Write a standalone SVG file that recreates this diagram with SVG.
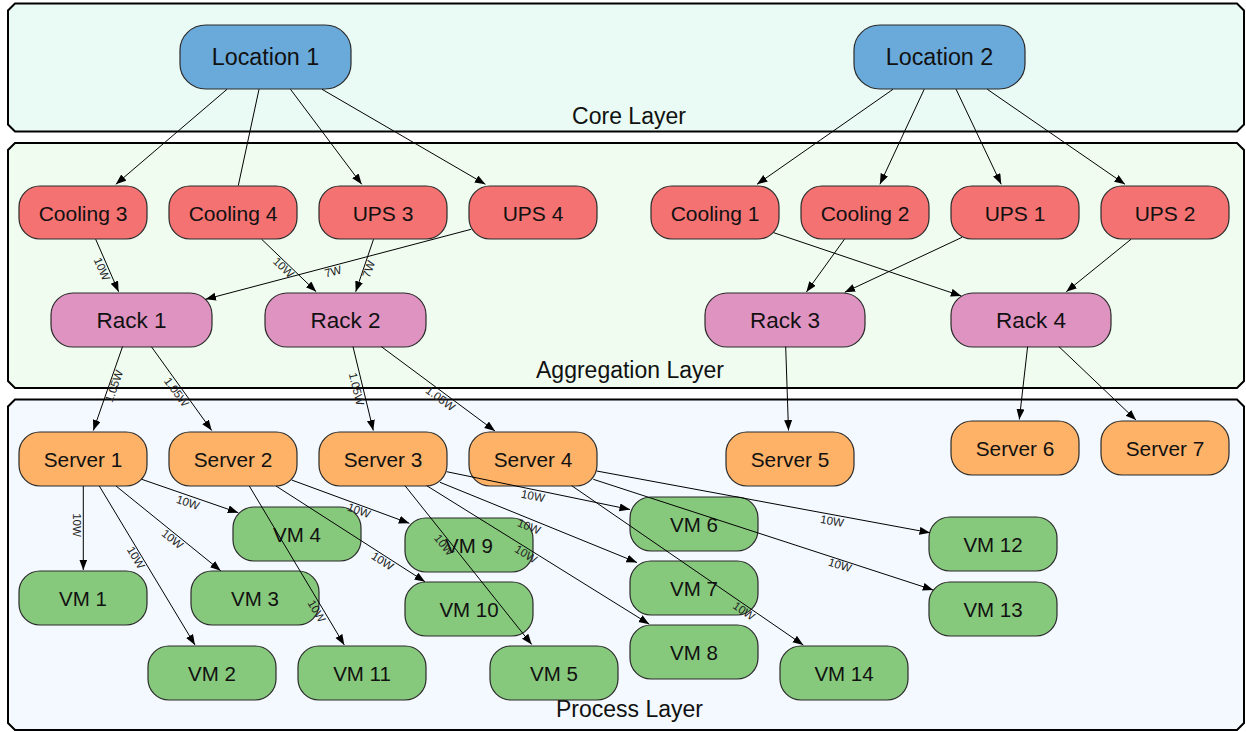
<svg xmlns="http://www.w3.org/2000/svg" width="1246" height="732" viewBox="0 0 1246 732">
<defs>
<marker id="arr" markerUnits="userSpaceOnUse" markerWidth="12" markerHeight="10" refX="10.5" refY="4" orient="auto">
<path d="M0,0 L10.5,4 L0,8 z" fill="#000"/>
</marker>
<style>
.layer{stroke:#000;stroke-width:2}
.ltxt{font-family:"Liberation Sans",Arial,sans-serif;font-size:23px;fill:#111;text-anchor:middle}
.n{stroke:#2a2a2a;stroke-width:1.2}
.t{font-family:"Liberation Sans",Arial,sans-serif;fill:#111;text-anchor:middle}
.loc{fill:#6aaadb}
.red{fill:#f47372}
.pink{fill:#df93c1}
.org{fill:#fdb267}
.grn{fill:#87c97c}
.e{stroke:#000;stroke-width:1;fill:none}
.ea{stroke:#000;stroke-width:1;fill:none;marker-end:url(#arr)}
.el{font-family:"Liberation Sans",Arial,sans-serif;font-size:11.5px;fill:#222;text-anchor:middle}
</style>
</defs>

<g id="layers">
<polygon class="layer" fill="#e9fbf4" points="15,3.5 1237,3.5 1244,10.5 1244,124.5 1237,131.5 15,131.5 8,124.5 8,10.5"/>
<text class="ltxt" x="629" y="124">Core Layer</text>
<polygon class="layer" fill="#f0fcf0" points="15,143 1237,143 1244,150 1244,381 1237,388 15,388 8,381 8,150"/>
<text class="ltxt" x="630" y="378">Aggregation Layer</text>
<polygon class="layer" fill="#f3f9fe" points="15,399.5 1237,399.5 1244,406.5 1244,723 1237,730 15,730 8,723 8,406.5"/>
<text class="ltxt" x="629.5" y="717">Process Layer</text>
</g>

<g id="node-location1"><rect class="n loc" x="180" y="25" width="171" height="64" rx="26" ry="25"/><text class="t" x="265.5" y="65.4" font-size="23.3">Location 1</text></g>
<g id="node-location2"><rect class="n loc" x="854" y="25" width="171" height="64" rx="26" ry="25"/><text class="t" x="939.5" y="65.4" font-size="23.3">Location 2</text></g>

<g id="node-cooling3"><rect class="n red" x="19" y="186" width="128" height="53" rx="21"/><text class="t" x="83" y="220.5" font-size="21">Cooling 3</text></g>
<g id="node-cooling4"><rect class="n red" x="169" y="186" width="128" height="53" rx="21"/><text class="t" x="233" y="220.5" font-size="21">Cooling 4</text></g>
<g id="node-ups3"><rect class="n red" x="319" y="186" width="128" height="53" rx="21"/><text class="t" x="383" y="220.5" font-size="21">UPS 3</text></g>
<g id="node-ups4"><rect class="n red" x="469" y="186" width="128" height="53" rx="21"/><text class="t" x="533" y="220.5" font-size="21">UPS 4</text></g>
<g id="node-cooling1"><rect class="n red" x="651" y="186" width="128" height="53" rx="21"/><text class="t" x="715" y="220.5" font-size="21">Cooling 1</text></g>
<g id="node-cooling2"><rect class="n red" x="801" y="186" width="128" height="53" rx="21"/><text class="t" x="865" y="220.5" font-size="21">Cooling 2</text></g>
<g id="node-ups1"><rect class="n red" x="951" y="186" width="128" height="53" rx="21"/><text class="t" x="1015" y="220.5" font-size="21">UPS 1</text></g>
<g id="node-ups2"><rect class="n red" x="1101" y="186" width="128" height="53" rx="21"/><text class="t" x="1165" y="220.5" font-size="21">UPS 2</text></g>

<g id="node-rack1"><rect class="n pink" x="51" y="293" width="161" height="54" rx="22"/><text class="t" x="131.5" y="328.2" font-size="22.5">Rack 1</text></g>
<g id="node-rack2"><rect class="n pink" x="265" y="293" width="161" height="54" rx="22"/><text class="t" x="345.5" y="328.2" font-size="22.5">Rack 2</text></g>
<g id="node-rack3"><rect class="n pink" x="705" y="293" width="160" height="54" rx="22"/><text class="t" x="785" y="328.2" font-size="22.5">Rack 3</text></g>
<g id="node-rack4"><rect class="n pink" x="951" y="293" width="160" height="54" rx="22"/><text class="t" x="1031" y="328.2" font-size="22.5">Rack 4</text></g>

<g id="node-server1"><rect class="n org" x="19" y="432" width="128" height="54" rx="21"/><text class="t" x="83" y="466.5" font-size="20.8">Server 1</text></g>
<g id="node-server2"><rect class="n org" x="169" y="432" width="128" height="54" rx="21"/><text class="t" x="233" y="466.5" font-size="20.8">Server 2</text></g>
<g id="node-server3"><rect class="n org" x="319" y="432" width="128" height="54" rx="21"/><text class="t" x="383" y="466.5" font-size="20.8">Server 3</text></g>
<g id="node-server4"><rect class="n org" x="469" y="432" width="128" height="54" rx="21"/><text class="t" x="533" y="466.5" font-size="20.8">Server 4</text></g>
<g id="node-server5"><rect class="n org" x="726" y="432" width="128" height="54" rx="21"/><text class="t" x="790" y="466.5" font-size="20.8">Server 5</text></g>
<g id="node-server6"><rect class="n org" x="951" y="421" width="128" height="54" rx="21"/><text class="t" x="1015" y="455.5" font-size="20.8">Server 6</text></g>
<g id="node-server7"><rect class="n org" x="1101" y="421" width="128" height="54" rx="21"/><text class="t" x="1165" y="455.5" font-size="20.8">Server 7</text></g>

<g id="node-vm1"><rect class="n grn" x="19" y="571" width="128" height="54" rx="21"/><text class="t" x="83" y="605.5" font-size="20.5">VM 1</text></g>
<g id="node-vm2"><rect class="n grn" x="148" y="646" width="128" height="54" rx="21"/><text class="t" x="212" y="680.5" font-size="20.5">VM 2</text></g>
<g id="node-vm3"><rect class="n grn" x="191" y="571" width="128" height="54" rx="21"/><text class="t" x="255" y="605.5" font-size="20.5">VM 3</text></g>
<g id="node-vm4"><rect class="n grn" x="233" y="507" width="128" height="54" rx="21"/><text class="t" x="297" y="541.5" font-size="20.5">VM 4</text></g>
<g id="node-vm11"><rect class="n grn" x="298" y="646" width="128" height="54" rx="21"/><text class="t" x="362" y="680.5" font-size="20.5">VM 11</text></g>
<g id="node-vm9"><rect class="n grn" x="405" y="518" width="128" height="54" rx="21"/><text class="t" x="469" y="552.5" font-size="20.5">VM 9</text></g>
<g id="node-vm10"><rect class="n grn" x="405" y="582" width="128" height="54" rx="21"/><text class="t" x="469" y="616.5" font-size="20.5">VM 10</text></g>
<g id="node-vm5"><rect class="n grn" x="490" y="646" width="128" height="54" rx="21"/><text class="t" x="554" y="680.5" font-size="20.5">VM 5</text></g>
<g id="node-vm6"><rect class="n grn" x="630" y="497" width="128" height="54" rx="21"/><text class="t" x="694" y="531.5" font-size="20.5">VM 6</text></g>
<g id="node-vm7"><rect class="n grn" x="630" y="561" width="128" height="54" rx="21"/><text class="t" x="694" y="595.5" font-size="20.5">VM 7</text></g>
<g id="node-vm8"><rect class="n grn" x="630" y="625" width="128" height="54" rx="21"/><text class="t" x="694" y="659.5" font-size="20.5">VM 8</text></g>
<g id="node-vm14"><rect class="n grn" x="780" y="646" width="128" height="54" rx="21"/><text class="t" x="844" y="680.5" font-size="20.5">VM 14</text></g>
<g id="node-vm12"><rect class="n grn" x="929" y="517" width="128" height="54" rx="21"/><text class="t" x="993" y="551.5" font-size="20.5">VM 12</text></g>
<g id="node-vm13"><rect class="n grn" x="929" y="582" width="128" height="54" rx="21"/><text class="t" x="993" y="616.5" font-size="20.5">VM 13</text></g>

<g id="connectors">
<line class="ea" x1="227" y1="89.3" x2="115.8" y2="184.3"/>
<line class="e" x1="259" y1="89.3" x2="238.3" y2="185.5"/>
<line class="ea" x1="290.5" y1="89.3" x2="361.7" y2="184.3"/>
<line class="ea" x1="322" y1="89.3" x2="485.4" y2="184.3"/>
<line class="ea" x1="893" y1="89.3" x2="757" y2="184.3"/>
<line class="ea" x1="924.2" y1="89.3" x2="879.9" y2="184.3"/>
<line class="ea" x1="956.1" y1="89.3" x2="1001.2" y2="184.3"/>
<line class="ea" x1="987.3" y1="89.3" x2="1125" y2="184.3"/>
<line class="ea" x1="95.7" y1="239.3" x2="118.6" y2="291.7"/>
<line class="ea" x1="261.7" y1="239.3" x2="316.2" y2="291.7"/>
<line class="ea" x1="373.5" y1="239.3" x2="355.7" y2="291.7"/>
<line class="ea" x1="471.1" y1="229.3" x2="205.5" y2="299.3"/>
<line class="ea" x1="773.7" y1="232.7" x2="961.3" y2="296"/>
<line class="ea" x1="844.4" y1="239.3" x2="806.4" y2="292"/>
<line class="ea" x1="962.1" y1="237.3" x2="844.7" y2="292.3"/>
<line class="ea" x1="1131" y1="239.3" x2="1066.3" y2="291.7"/>
<line class="ea" x1="122.5" y1="346.7" x2="93.3" y2="430.5"/>
<line class="ea" x1="151.4" y1="346.7" x2="211.7" y2="430.5"/>
<line class="ea" x1="353" y1="346.7" x2="373.3" y2="430.5"/>
<line class="ea" x1="381.4" y1="346.7" x2="495" y2="431"/>
<line class="ea" x1="785.7" y1="346.7" x2="788.5" y2="430.5"/>
<line class="ea" x1="1027.6" y1="346.7" x2="1019.3" y2="419.5"/>
<line class="ea" x1="1059" y1="346.7" x2="1136" y2="420"/>
<line class="ea" x1="83.3" y1="486" x2="83.3" y2="570"/>
<line class="ea" x1="99.3" y1="486" x2="195" y2="645"/>
<line class="ea" x1="116" y1="486" x2="220.7" y2="570.7"/>
<line class="ea" x1="141.7" y1="479.3" x2="238.3" y2="512.7"/>
<line class="ea" x1="249.3" y1="486" x2="344.3" y2="645"/>
<line class="ea" x1="276" y1="486" x2="425" y2="581.7"/>
<line class="ea" x1="291.7" y1="480" x2="409.3" y2="523.3"/>
<line class="ea" x1="405" y1="485.7" x2="531.7" y2="644.5"/>
<line class="ea" x1="446.7" y1="471.7" x2="630" y2="509.5"/>
<line class="ea" x1="440" y1="482.3" x2="637" y2="562.5"/>
<line class="ea" x1="426.7" y1="485.7" x2="649.3" y2="624.2"/>
<line class="ea" x1="571.7" y1="485.7" x2="803.3" y2="645"/>
<line class="ea" x1="596.7" y1="471" x2="930" y2="532.7"/>
<line class="ea" x1="593.3" y1="479.3" x2="933.3" y2="590"/>

<text class="el" transform="translate(102,269) rotate(66.3)" y="4">10W</text>
<text class="el" transform="translate(283.5,267.5) rotate(43.9)" y="4">10W</text>
<text class="el" transform="translate(368.6,269) rotate(-71.2)" y="4">7W</text>
<text class="el" transform="translate(333,271.5) rotate(-14.8)" y="4">7W</text>
<text class="el" transform="translate(114,386) rotate(-70.7)" y="4">1.05W</text>
<text class="el" transform="translate(176.5,392) rotate(54.1)" y="4">1.05W</text>
<text class="el" transform="translate(356.5,389) rotate(76.3)" y="4">1.05W</text>
<text class="el" transform="translate(440.5,398.5) rotate(36.3)" y="4">1.05W</text>
<text class="el" transform="translate(76.7,525) rotate(90)" y="4">10W</text>
<text class="el" transform="translate(136,557.5) rotate(59)" y="4">10W</text>
<text class="el" transform="translate(172.5,539) rotate(39)" y="4">10W</text>
<text class="el" transform="translate(188,502.5) rotate(19)" y="4">10W</text>
<text class="el" transform="translate(316.7,611) rotate(59)" y="4">10W</text>
<text class="el" transform="translate(382.5,561) rotate(32.7)" y="4">10W</text>
<text class="el" transform="translate(359,510.5) rotate(20.2)" y="4">10W</text>
<text class="el" transform="translate(444,545) rotate(51.3)" y="4">10W</text>
<text class="el" transform="translate(533,496) rotate(11.8)" y="4">10W</text>
<text class="el" transform="translate(529,526.5) rotate(22)" y="4">10W</text>
<text class="el" transform="translate(526,554) rotate(31.8)" y="4">10W</text>
<text class="el" transform="translate(744,611) rotate(34.5)" y="4">10W</text>
<text class="el" transform="translate(832,521) rotate(10.5)" y="4">10W</text>
<text class="el" transform="translate(840,565) rotate(18)" y="4">10W</text>
</g>
</svg>
